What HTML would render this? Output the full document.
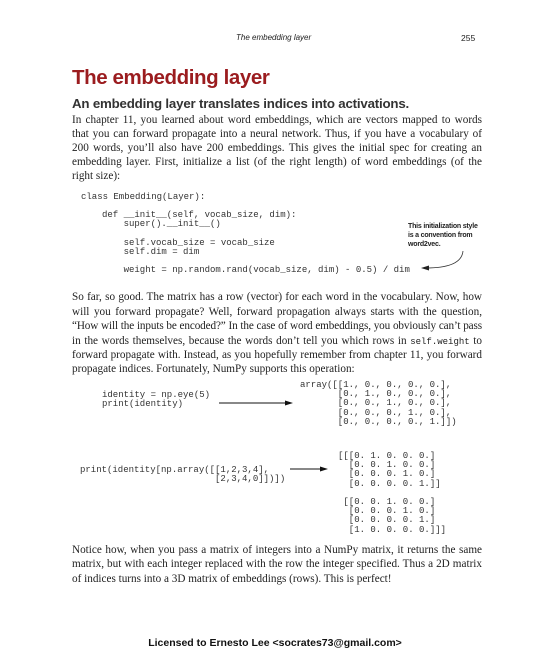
<!DOCTYPE html>
<html><head><meta charset="utf-8"><style>
body{margin:0;width:550px;height:665px;background:#fff;position:relative;overflow:hidden;font-family:"Liberation Serif",serif;color:#222}
.a{position:absolute;white-space:pre}
.l{position:absolute;left:72px;width:410px;font-size:11.2px;line-height:14px;text-align:justify;text-align-last:justify;white-space:nowrap}
.l.e{text-align-last:left}
.c{position:absolute;font-family:"Liberation Mono",monospace;font-size:9px;line-height:9.2px;white-space:pre;color:#333}
.n{position:absolute;font-family:"Liberation Sans",sans-serif;font-weight:bold;font-size:7px;line-height:9px;white-space:pre;letter-spacing:-0.2px}
code{font-family:"Liberation Mono",monospace;font-size:9px}
</style></head><body>
<div class="a" style="left:236px;top:33px;font-size:8px;font-style:italic;font-family:'Liberation Sans',sans-serif">The embedding layer</div>
<div class="a" style="left:461px;top:33px;font-size:8.5px;font-family:'Liberation Sans',sans-serif">255</div>
<div class="a" style="left:72px;top:66px;font-size:20.5px;font-weight:bold;color:#9b1c1f;font-family:'Liberation Sans',sans-serif;letter-spacing:-0.4px">The embedding layer</div>
<div class="a" style="left:72px;top:96px;font-size:13.3px;font-weight:bold;color:#333;font-family:'Liberation Sans',sans-serif;letter-spacing:-0.2px">An embedding layer translates indices into activations.</div>
<div class="l" style="top:113px">In chapter 11, you learned about word embeddings, which are vectors mapped to words</div>
<div class="l" style="top:127px">that you can forward propagate into a neural network. Thus, if you have a vocabulary of</div>
<div class="l" style="top:141px">200 words, you’ll also have 200 embeddings. This gives the initial spec for creating an</div>
<div class="l" style="top:155px">embedding layer. First, initialize a list (of the right length) of word embeddings (of the</div>
<div class="l e" style="top:169px">right size):</div>
<div class="c" style="left:81px;top:193px">class Embedding(Layer):</div>
<div class="c" style="left:102px;top:211px">def __init__(self, vocab_size, dim):
    super().__init__()

    self.vocab_size = vocab_size
    self.dim = dim

    weight = np.random.rand(vocab_size, dim) - 0.5) / dim</div>
<div class="n" style="left:408px;top:222px">This initialization style
is a convention from
word2vec.</div>
<svg class="a" style="left:0;top:0" width="550" height="665">
<path d="M463 251 C462 262 450 268 426 268" fill="none" stroke="#333" stroke-width="0.8"/>
<polygon points="421,268 429,265.5 429,270.5" fill="#222"/>
<line x1="219" y1="403" x2="287" y2="403" stroke="#111" stroke-width="1"/>
<polygon points="293,403 285,400.5 285,405.5" fill="#111"/>
<line x1="290" y1="469" x2="322" y2="469" stroke="#111" stroke-width="1"/>
<polygon points="328,469 320,466.5 320,471.5" fill="#111"/>
</svg>
<div class="l" style="top:290px">So far, so good. The matrix has a row (vector) for each word in the vocabulary. Now, how</div>
<div class="l" style="top:305px">will you forward propagate? Well, forward propagation always starts with the question,</div>
<div class="l" style="top:319px;letter-spacing:-0.12px">“How will the inputs be encoded?” In the case of word embeddings, you obviously can’t pass</div>
<div class="l" style="top:334px">in the words themselves, because the words don’t tell you which rows in <code>self.weight</code> to</div>
<div class="l" style="top:348px">forward propagate with. Instead, as you hopefully remember from chapter 11, you forward</div>
<div class="l e" style="top:362px">propagate indices. Fortunately, NumPy supports this operation:</div>
<div class="c" style="left:300px;top:381px">array([[1., 0., 0., 0., 0.],
       [0., 1., 0., 0., 0.],
       [0., 0., 1., 0., 0.],
       [0., 0., 0., 1., 0.],
       [0., 0., 0., 0., 1.]])</div>
<div class="c" style="left:102px;top:391px">identity = np.eye(5)
print(identity)</div>
<div class="c" style="left:80px;top:466px">print(identity[np.array([[1,2,3,4],
                         [2,3,4,0]])])</div>
<div class="c" style="left:338px;top:452px">[[[0. 1. 0. 0. 0.]
  [0. 0. 1. 0. 0.]
  [0. 0. 0. 1. 0.]
  [0. 0. 0. 0. 1.]]

 [[0. 0. 1. 0. 0.]
  [0. 0. 0. 1. 0.]
  [0. 0. 0. 0. 1.]
  [1. 0. 0. 0. 0.]]]</div>
<div class="l" style="top:543px">Notice how, when you pass a matrix of integers into a NumPy matrix, it returns the same</div>
<div class="l" style="top:557px">matrix, but with each integer replaced with the row the integer specified. Thus a 2D matrix</div>
<div class="l e" style="top:572px">of indices turns into a 3D matrix of embeddings (rows). This is perfect!</div>
<div class="a" style="left:0;width:550px;text-align:center;top:637px;font-size:10.5px;font-weight:bold;font-family:'Liberation Sans',sans-serif;color:#111">Licensed to Ernesto Lee &lt;socrates73@gmail.com&gt;</div>
</body></html>
